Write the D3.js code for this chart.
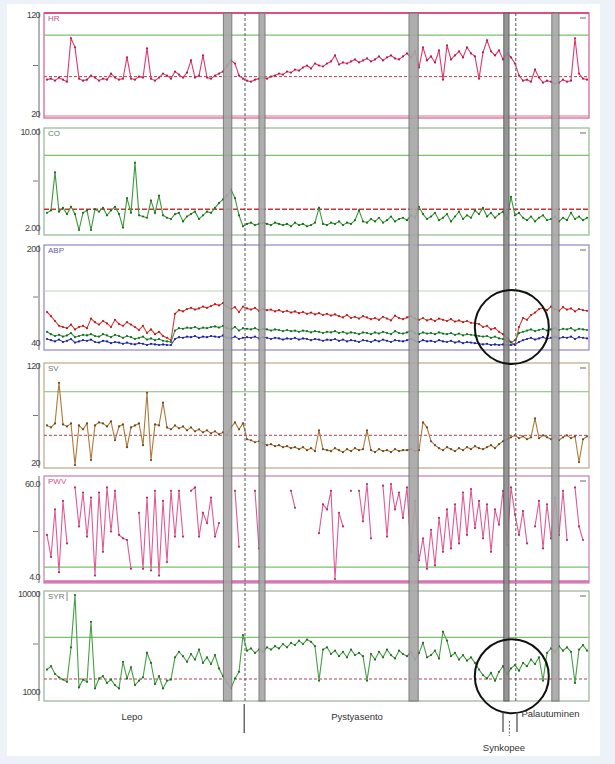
<!DOCTYPE html>
<html><head><meta charset="utf-8">
<script src="https://cdn.jsdelivr.net/npm/d3@7"></script>
<style>body{margin:0;background:#edf1f8;} svg{display:block;font-family:"Liberation Sans",Arial,sans-serif;}</style>
</head><body><svg id="c" width="615" height="764"></svg>
<script>
// ---------- DATA (sample index 0..135) ----------
const hrValues=[56,57,55,58,56,54,97,88,57,55,
56,60,58,55,57,56,62,58,56,57,
78,57,56,59,58,87,57,55,58,62,
60,57,64,61,58,63,75,58,60,80,
58,57,60,62,64,70,75,72,60,57,
55,54,56,57,58,57,59,60,62,61,
64,63,66,65,68,70,67,72,70,69,
72,74,80,71,73,72,74,76,73,75,
77,74,76,79,75,78,80,77,76,79,
82,78,84,68,88,75,79,73,85,56,
90,76,80,84,78,88,82,79,57,83,
95,84,80,85,76,82,78,72,60,55,
56,54,66,58,53,55,54,52,53,56,
54,55,97,62,57,56];
const coValues=[3.4,3.6,6.7,3.5,3.8,3.3,3.9,3.3,2.0,3.4,
3.6,2.0,3.7,3.5,3.8,3.2,3.6,3.9,3.3,2.2,
4.6,3.4,7.5,3.2,3.1,3.0,4.4,3.4,4.8,3.2,
3.0,2.9,3.3,3.4,2.7,3.1,3.3,3.5,2.9,3.2,
3.5,3.4,3.8,4.2,4.5,4.8,5.3,4.6,3.2,2.3,
2.5,2.6,2.4,2.5,2.6,2.5,2.4,2.6,2.5,2.4,
2.5,2.3,2.6,2.4,2.5,2.3,2.4,2.6,3.8,2.5,
2.4,2.6,2.5,2.7,2.4,2.6,2.5,2.8,3.6,2.7,
2.6,2.9,2.7,3.0,2.6,2.8,3.1,2.7,2.9,3.0,
2.8,3.2,3.0,3.9,3.3,2.9,3.1,3.4,2.8,3.0,
3.3,2.7,3.1,3.5,2.9,3.2,3.0,3.6,3.3,3.8,
3.1,3.4,3.0,3.3,3.5,2.9,4.7,3.2,3.4,3.0,
2.8,3.1,2.7,3.0,3.2,2.8,2.9,3.1,2.7,3.0,
2.8,3.4,2.9,3.1,2.8,3.0];
const abpSys=[95,88,80,72,70,68,74,66,70,72,
68,84,78,74,80,76,70,82,75,72,
78,74,70,65,72,60,66,58,62,55,
52,48,92,98,96,100,102,99,101,104,
102,105,108,106,110,104,100,103,95,104,
101,99,102,97,100,98,99,96,98,95,
97,94,96,93,95,92,94,91,93,90,
92,89,91,88,86,90,85,87,84,88,
86,83,85,82,87,84,81,89,85,83,
86,88,84,82,85,81,83,80,84,82,
80,83,79,81,78,80,77,76,75,70,
72,66,68,62,58,52,45,40,70,85,
82,90,94,100,102,98,104,100,97,103,
99,101,96,100,98,97];
const abpMean=[62,58,55,57,54,56,60,53,55,57,
56,58,55,54,58,56,53,57,55,52,
55,53,50,52,54,49,51,48,50,47,
46,45,64,68,67,69,68,70,67,69,
68,70,71,69,72,68,66,70,64,68,
67,66,68,65,67,66,64,66,65,63,
65,63,64,62,64,63,61,63,62,60,
62,61,63,60,62,59,61,60,58,61,
60,58,61,59,62,60,58,63,60,59,
61,64,60,58,61,59,60,58,61,59,
58,60,57,59,56,58,57,56,55,54,
55,52,54,51,50,47,44,48,60,62,
64,66,63,65,67,64,66,68,65,67,
66,68,64,67,66,65];
const abpDia=[50,48,46,49,45,47,50,44,46,48,
47,49,45,44,47,46,43,45,44,42,
44,42,41,43,42,40,42,41,40,41,
40,40,50,53,52,54,53,55,52,54,
53,55,54,53,56,52,51,54,50,52,
53,52,54,51,53,52,50,52,51,49,
51,50,52,49,51,50,48,50,49,47,
49,48,50,47,49,46,48,47,45,48,
47,45,48,46,49,47,45,48,47,46,
48,50,47,45,48,46,47,45,48,46,
45,47,44,46,43,45,44,43,42,41,
42,40,41,40,41,40,40,41,45,48,
50,52,49,51,53,50,52,54,51,53,
52,54,50,53,52,51];
const svValues=[60,58,62,103,61,59,62,20,60,56,
62,25,60,63,62,59,64,45,59,61,
38,58,60,62,40,93,25,61,60,83,
58,56,60,57,59,55,58,54,56,53,
55,52,54,51,53,50,58,63,56,62,
46,45,43,44,42,40,41,39,40,38,
39,37,38,36,38,35,37,34,55,36,
35,34,37,35,33,36,34,37,35,36,
55,35,33,36,34,35,33,36,34,35,
35,36,34,35,63,58,44,40,37,35,
38,36,34,37,35,38,36,39,37,36,
38,40,37,41,44,46,48,50,47,49,
46,48,67,47,50,48,46,49,45,48,
50,47,49,23,46,49];
const pwvValues=[30,17,45,8,50,25,null,58,35,55,
29,52,6,55,20,58,32,56,30,28,
27,10,null,43,10,52,9,56,6,50,
14,56,29,56,29,null,56,58,29,43,
37,52,29,37,null,null,null,56,23,null,
null,null,56,22,null,null,null,null,null,null,
null,56,46,null,null,null,null,null,31,48,
45,56,4,43,35,null,56,null,56,38,
60,28,null,null,59,29,60,45,55,40,
58,20,50,15,28,10,33,12,40,20,
45,22,48,25,55,30,57,34,50,28,
48,20,45,36,56,24,58,42,30,44,
25,null,35,50,22,48,28,52,30,56,
27,null,58,35,27,null];
const syrValues=[3200,3500,2800,2500,2300,2100,5200,9900,1600,2300,
2100,7500,1500,2400,2600,2000,2300,1800,1500,3900,
2400,3400,1800,2200,2500,4700,3800,1900,2600,1500,
2200,2300,4300,4800,4400,3900,4600,4100,5000,3800,
4300,3700,4500,3300,2600,2000,1500,2400,3000,6300,
4900,5100,4700,5000,4800,5200,5000,5300,5100,5500,
5200,5600,5400,5800,5500,5900,5700,5300,2200,5000,
5200,4600,4900,4400,4800,4300,5000,4500,4700,4400,
2200,4600,4100,4800,4300,5000,4500,4200,4900,4600,
4400,4800,4100,4700,5600,4300,4500,4900,4200,6600,
5800,4400,4700,4100,4500,4000,4300,3800,3200,2700,
2400,2900,2200,3000,3500,2800,3300,3600,3100,3800,
3500,4100,3700,4300,2200,4700,5100,4800,5300,4900,
5200,4800,2000,5000,5400,4900];

const panelNames=["HR","CO","ABP","SV","PWV","SYR"];
const tickTop=["120","10.00","200","120","60.0","10000"];
const tickBottom=["20","2.00","40","20","4.0","1000"];
const domains=[[20,120],[2,10],[40,200],[20,120],[4,60],[1000,10000]];
const upperLimit=[100,8.1,130,94,11,6100];
const baseLine=[59,3.7,null,50,null,2350];
const eventBands=[[44.1,46.2],[53,54.5],[90.5,92.8],[114.2,115.5],[126.2,128]];
const eventDashes=[49.5,117.2];
const phaseLabels=["Lepo","Pystyasento","Palautuminen","Synkopee"];
const phasePos=[21.25,77.5,118.6,114.25];

// ---------- LAYOUT ----------
const svg=d3.select("#c");
svg.append("rect").attr("x",7).attr("y",4).attr("width",593).attr("height",752).attr("fill","#fff");
const x=d3.scaleLinear().domain([0,135]).range([47,587]);
const boxL=44, boxR=589;
const boxes=[[13,118],[128,235],[245,350],[363,468],[476,583],[591,701]];
const ranges=[[116,15],[230,132],[345,249],[465,366],[579,484],[694,594]];
const boxColors=["#d86a90","#98bd98","#9890c8","#c0b090","#c888b0","#a0b8a0"];
const titleColors=["#c0508a","#667766","#6a5aaa","#777","#d0508a","#6a7a6a"];
const series=[
  [{v:hrValues,c:"#e0386c",m:"#b0204a"}],
  [{v:coValues,c:"#3a9a3a",m:"#1f6a1f"}],
  [{v:abpSys,c:"#e03a3a",m:"#b02020"},{v:abpMean,c:"#2e9a3e",m:"#1a6a26"},{v:abpDia,c:"#3a40c8",m:"#2020a0"}],
  [{v:svValues,c:"#b07838",m:"#6a4a20"}],
  [{v:pwvValues,c:"#e05a96",m:"#b03070"}],
  [{v:syrValues,c:"#44a044",m:"#2a6a2a"}]
];

panelNames.forEach((name,p)=>{
  const [t,b]=boxes[p];
  const y=d3.scaleLinear().domain(domains[p]).range(ranges[p]);
  const g=svg.append("g");
  // left axis
  g.append("line").attr("x1",39).attr("x2",39).attr("y1",t).attr("y2",b).attr("stroke","#9a9a9a").attr("stroke-width",1.5);
  g.append("line").attr("x1",33).attr("x2",38).attr("y1",(ranges[p][0]+ranges[p][1])/2).attr("y2",(ranges[p][0]+ranges[p][1])/2).attr("stroke","#777");
  g.append("text").attr("x",40).attr("y",y(domains[p][1])+1).attr("text-anchor","end").attr("dominant-baseline","middle")
    .attr("font-size",9).attr("fill","#444").attr("letter-spacing",-0.6).text(tickTop[p]);
  g.append("text").attr("x",40).attr("y",y(domains[p][0])-1).attr("text-anchor","end").attr("dominant-baseline","middle")
    .attr("font-size",9).attr("fill","#444").attr("letter-spacing",-0.6).text(tickBottom[p]);
  // box
  g.append("rect").attr("x",boxL).attr("y",t).attr("width",boxR-boxL).attr("height",b-t)
    .attr("fill","none").attr("stroke",boxColors[p]).attr("stroke-width",1.3);
  if(p===0){g.append("line").attr("x1",boxL).attr("x2",boxR).attr("y1",t).attr("y2",t).attr("stroke","#e0507e").attr("stroke-width",2);
            g.append("line").attr("x1",boxL).attr("x2",boxR).attr("y1",b-2).attr("y2",b-2).attr("stroke","#e07090").attr("stroke-width",1);}
  if(p===4){g.append("line").attr("x1",boxL).attr("x2",boxR).attr("y1",b-1.5).attr("y2",b-1.5).attr("stroke","#d870b0").attr("stroke-width",2.5);}
  // limit lines
  g.append("line").attr("x1",boxL).attr("x2",boxR).attr("y1",y(upperLimit[p])).attr("y2",y(upperLimit[p]))
    .attr("stroke",p===2?"#b8d8b0":"#7cc070").attr("stroke-width",1.2);
  if(baseLine[p]!=null){
    g.append("line").attr("x1",boxL).attr("x2",boxR).attr("y1",y(baseLine[p])).attr("y2",y(baseLine[p]))
      .attr("stroke",p===1?"#d03030":"#b04050").attr("stroke-width",p===1?1.4:1).attr("stroke-dasharray",p===1?"5,2":"3,2");
  }
  // title
  g.append("text").attr("x",48).attr("y",t+8).attr("font-size",8).attr("fill",titleColors[p]).text(name);
  if(p===5) g.append("line").attr("x1",67).attr("x2",67).attr("y1",t+1).attr("y2",t+10).attr("stroke","#888");
  g.append("line").attr("x1",580).attr("x2",586).attr("y1",t+5).attr("y2",t+5).attr("stroke","#999").attr("stroke-width",1.5);
  // series
  series[p].forEach(s=>{
    const line=d3.line().defined(d=>d!=null).x((d,i)=>x(i)).y(d=>y(d));
    g.append("path").datum(s.v).attr("d",line).attr("fill","none").attr("stroke",s.c).attr("stroke-width",1.1);
    g.selectAll(null).data(s.v.map((d,i)=>[i,d]).filter(d=>d[1]!=null)).join("circle")
      .attr("cx",d=>x(d[0])).attr("cy",d=>y(d[1])).attr("r",1.1).attr("fill",s.m);
  });
});

// event bands
eventBands.forEach((e,k)=>{
  svg.append("rect").attr("x",x(e[0])).attr("y",13).attr("width",x(e[1])-x(e[0])).attr("height",701-13)
    .attr("fill",k===3?"#8a8a8a":"#a6a6a6").attr("stroke",k===3?"#555":"#707070").attr("stroke-width",1).attr("opacity",0.9);
});
eventDashes.forEach(e=>{
  svg.append("line").attr("x1",x(e)).attr("x2",x(e)).attr("y1",13).attr("y2",701)
    .attr("stroke","#555").attr("stroke-width",1).attr("stroke-dasharray","3,2");
});

// circles of interest
[[116.2,2,70],[116.2,5,2600]].forEach(c=>{
  const y=d3.scaleLinear().domain(domains[c[1]]).range(ranges[c[1]]);
  svg.append("circle").attr("cx",x(c[0])).attr("cy",y(c[2])).attr("r",37).attr("fill","none").attr("stroke","#111").attr("stroke-width",2);
});

// phase markers
svg.append("line").attr("x1",x(49.3)).attr("x2",x(49.3)).attr("y1",704).attr("y2",733).attr("stroke","#444").attr("stroke-width",1.2);
svg.append("line").attr("x1",x(114)).attr("x2",x(114)).attr("y1",712).attr("y2",732).attr("stroke","#444").attr("stroke-width",1.2);
svg.append("line").attr("x1",x(117.5)).attr("x2",x(117.5)).attr("y1",712).attr("y2",732).attr("stroke","#444").attr("stroke-width",1.2);
svg.append("line").attr("x1",x(115.6)).attr("x2",x(115.6)).attr("y1",721).attr("y2",736).attr("stroke","#666").attr("stroke-width",1).attr("stroke-dasharray","2,1.5");
const lab=[[phasePos[0],717,"middle"],[phasePos[1],717,"middle"],[phasePos[2],714,"start"],[phasePos[3],748,"middle"]];
phaseLabels.forEach((t,k)=>{
  svg.append("text").attr("x",x(lab[k][0])).attr("y",lab[k][1]).attr("text-anchor",lab[k][2]).attr("dominant-baseline","middle")
    .attr("font-size",9.5).attr("fill","#333").text(t);
});
</script></body></html>
